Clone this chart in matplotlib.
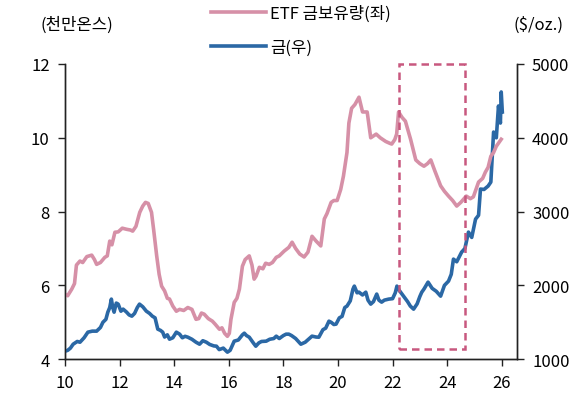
import matplotlib
matplotlib.use("Agg")
import matplotlib.pyplot as plt
from matplotlib.patches import Rectangle

plt.rcParams["font.family"] = ["Noto Sans CJK KR", "DejaVu Sans"]

# ETF 금보유량 (천만온스), 연도(20xx) 기준
etf_year = [10.00, 10.10, 10.25, 10.35, 10.42, 10.55, 10.65, 10.80, 10.98, 11.08,
            11.16, 11.30, 11.46, 11.55, 11.64, 11.72, 11.83, 11.95, 12.10, 12.26,
            12.40, 12.48, 12.60, 12.74, 12.85, 12.95, 13.05, 13.17, 13.25, 13.36,
            13.45, 13.54, 13.65, 13.75, 13.83, 13.95, 14.08, 14.20, 14.35, 14.50,
            14.65, 14.80, 14.90, 15.00, 15.10, 15.25, 15.40, 15.50, 15.66, 15.75,
            15.85, 15.95, 16.02, 16.08, 16.20, 16.30, 16.39, 16.50, 16.60, 16.75,
            16.85, 16.93, 17.00, 17.12, 17.25, 17.35, 17.48, 17.60, 17.74, 17.85,
            18.03, 18.20, 18.32, 18.45, 18.60, 18.76, 18.90, 19.05, 19.20, 19.37,
            19.50, 19.60, 19.75, 19.85, 19.97, 20.10, 20.20, 20.33, 20.40, 20.50,
            20.62, 20.77, 20.90, 21.07, 21.20, 21.30, 21.40, 21.55, 21.75, 21.90,
            21.97, 22.08, 22.15, 22.22, 22.35, 22.47, 22.66, 22.85, 23.00, 23.15,
            23.28, 23.40, 23.55, 23.76, 23.90, 24.05, 24.20, 24.35, 24.50, 24.70,
            24.85, 24.96, 25.15, 25.30, 25.40, 25.50, 25.60, 25.70, 25.80, 25.98]
etf_hold = [5.76, 5.72, 5.90, 6.05, 6.55, 6.66, 6.62, 6.78, 6.82, 6.70,
            6.57, 6.62, 6.76, 6.80, 7.20, 7.10, 7.44, 7.45, 7.55, 7.52,
            7.50, 7.47, 7.60, 7.98, 8.15, 8.25, 8.22, 7.98, 7.50, 6.80,
            6.30, 5.98, 5.85, 5.65, 5.63, 5.44, 5.30, 5.35, 5.32, 5.40,
            5.35, 5.08, 5.10, 5.25, 5.22, 5.10, 5.03, 4.95, 4.81, 4.85,
            4.70, 4.62, 4.70, 5.08, 5.54, 5.65, 5.90, 6.52, 6.70, 6.80,
            6.55, 6.17, 6.25, 6.49, 6.45, 6.60, 6.57, 6.62, 6.76, 6.80,
            6.93, 7.03, 7.17, 7.00, 6.85, 6.77, 6.90, 7.33, 7.20, 7.07,
            7.80, 7.95, 8.25, 8.30, 8.30, 8.60, 8.96, 9.60, 10.40, 10.80,
            10.90, 11.10, 10.70, 10.70, 10.00, 10.05, 10.10, 10.00, 9.90, 9.85,
            9.83, 9.95, 10.10, 10.70, 10.55, 10.45, 9.96, 9.40, 9.30, 9.23,
            9.30, 9.40, 9.10, 8.70, 8.55, 8.42, 8.30, 8.15, 8.25, 8.42,
            8.35, 8.40, 8.80, 8.90, 9.07, 9.20, 9.50, 9.60, 9.77, 9.96]

# 금 가격 ($/oz.)
gold_year = [10.00, 10.10, 10.20, 10.30, 10.45, 10.55, 10.70, 10.84, 11.00, 11.16,
             11.30, 11.39, 11.50, 11.57, 11.64, 11.70, 11.75, 11.80, 11.88, 11.95,
             12.05, 12.13, 12.25, 12.35, 12.45, 12.55, 12.65, 12.73, 12.85, 12.98,
             13.10, 13.20, 13.30, 13.40, 13.50, 13.58, 13.65, 13.75, 13.83, 13.95,
             14.08, 14.20, 14.30, 14.40, 14.50, 14.65, 14.80, 14.93, 15.05, 15.18,
             15.30, 15.45, 15.55, 15.65, 15.80, 15.95, 16.05, 16.20, 16.35, 16.50,
             16.57, 16.65, 16.75, 16.90, 16.99, 17.10, 17.20, 17.37, 17.50, 17.65,
             17.74, 17.85, 18.00, 18.10, 18.20, 18.30, 18.45, 18.64, 18.80, 18.95,
             19.05, 19.20, 19.30, 19.45, 19.55, 19.67, 19.75, 19.85, 19.93, 20.05,
             20.15, 20.25, 20.33, 20.45, 20.55, 20.60, 20.70, 20.77, 20.90, 21.02,
             21.10, 21.20, 21.30, 21.42, 21.50, 21.60, 21.70, 21.86, 22.00, 22.10,
             22.16, 22.25, 22.40, 22.55, 22.65, 22.77, 22.90, 23.00, 23.07, 23.15,
             23.30, 23.45, 23.60, 23.76, 23.90, 24.05, 24.15, 24.23, 24.35, 24.53,
             24.65, 24.78, 24.90, 25.04, 25.15, 25.22, 25.35, 25.50, 25.60, 25.70,
             25.80, 25.88, 25.95, 25.98, 26.02]
gold_price = [1108, 1120, 1150, 1203, 1240, 1230, 1290, 1366, 1380, 1380,
              1430, 1500, 1540, 1637, 1700, 1814, 1700, 1637, 1760, 1746,
              1650, 1678, 1640, 1600, 1583, 1620, 1700, 1746, 1710, 1651,
              1620, 1583, 1560, 1407, 1390, 1366, 1300, 1330, 1271, 1290,
              1366, 1339, 1290, 1310, 1298, 1270, 1230, 1203, 1250, 1230,
              1200, 1180, 1176, 1130, 1150, 1095, 1120, 1244, 1260, 1330,
              1352, 1320, 1298, 1220, 1176, 1220, 1240, 1244, 1270, 1280,
              1312, 1280, 1320, 1339, 1339, 1320, 1280, 1203, 1230, 1280,
              1312, 1300, 1298, 1400, 1420, 1515, 1500, 1470, 1475, 1560,
              1580, 1700, 1719, 1790, 1950, 1990, 1900, 1908, 1870, 1908,
              1800, 1746, 1780, 1882, 1800, 1773, 1800, 1814, 1820, 1900,
              1990, 1930, 1854, 1780, 1720, 1678, 1750, 1850, 1908, 1950,
              2044, 1960, 1920, 1854, 2000, 2058, 2150, 2356, 2320, 2451,
              2500, 2722, 2650, 2898, 2950, 3305, 3300, 3346, 3400, 4078,
              4000, 4431, 4200, 4621, 4350]

x_ticks = [10, 12, 14, 16, 18, 20, 22, 24, 26]
left_ticks = [4, 6, 8, 10, 12]
right_ticks = [1000, 2000, 3000, 4000, 5000]

# 강조 구간 (점선 박스)
box_x = (22.22, 24.66)
box_y = (4.27, 12.0)

PINK = "#d690a7"
BLUE = "#2b68a5"
BOX = "#c8587f"
FS = 12

fig = plt.figure(figsize=(5.8, 4.14), dpi=100)
ax = fig.add_axes([0.112, 0.130, 0.779, 0.713])
ax2 = ax.twinx()

l1, = ax.plot(etf_year, etf_hold, color=PINK, lw=2.6, solid_joinstyle="round",
              label="ETF 금보유량(좌)", zorder=2)
l2, = ax2.plot(gold_year, gold_price, color=BLUE, lw=2.6, solid_joinstyle="round",
               label="금(우)", zorder=3)

ax.add_patch(Rectangle((box_x[0], box_y[0]), box_x[1] - box_x[0], box_y[1] - box_y[0],
                       fill=False, edgecolor=BOX, lw=1.8, ls=(0, (3, 2)),
                       clip_on=False, zorder=5))

ax.set_xlim(10, 26.55)
ax.set_ylim(4, 12)
ax2.set_ylim(1000, 5000)
ax.set_xticks(x_ticks)
ax.set_yticks(left_ticks)
ax2.set_yticks(right_ticks)

for a in (ax, ax2):
    a.spines["top"].set_visible(False)
    for s in ("left", "right", "bottom"):
        a.spines[s].set_color("#222222")
        a.spines[s].set_linewidth(1.0)
    a.tick_params(labelsize=FS, length=5, width=1.0, color="#222222", pad=6)
ax.patch.set_visible(False)
ax.set_zorder(ax2.get_zorder() + 1)

fig.text(0.133, 0.938, "(천만온스)", fontsize=FS, ha="center", va="center")
fig.text(0.928, 0.938, "($/oz.)", fontsize=FS, ha="center", va="center")

fig.legend(handles=[l1, l2], loc="upper left", bbox_to_anchor=(0.338, 1.022),
           frameon=False, fontsize=FS, handlelength=3.3, handletextpad=0.25,
           labelspacing=1.0)

fig.savefig("out.png", dpi=100)
